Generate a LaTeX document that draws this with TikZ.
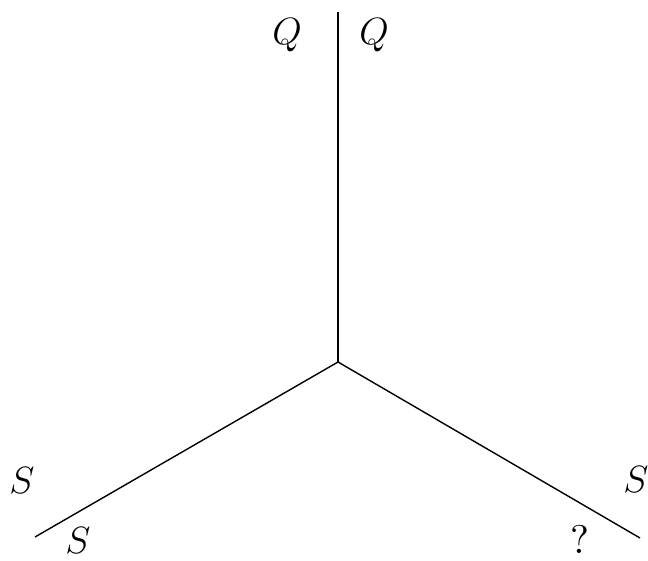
\RequirePackage{fix-cm}
\documentclass[tikz,border=0pt]{standalone}
\begin{document}
\begin{tikzpicture}[x=1pt,y=-1pt,
  edge/.style={line width=1.4pt},
  lab/.style={inner sep=0pt,font=\fontsize{38}{44}\selectfont}]
\useasboundingbox (0,0) rectangle (648,561);
\coordinate (c) at (338,362);
\coordinate (t) at (338,12);
\coordinate (l) at (35,537);
\coordinate (r) at (640,538);
\draw[edge] (c) -- (t);
\draw[edge] (c) -- (l);
\draw[edge] (c) -- (r);
\node[lab] (q1) at (287,35) {$Q$};
\node[lab] (q2) at (374,35) {$Q$};
\node[lab] (s1) at (22,481) {$S$};
\node[lab] (s2) at (78,541) {$S$};
\node[lab] (s3) at (636,480) {$S$};
\node[inner sep=0pt] (qm) at (580,539) {\scalebox{4}{?}};
\end{tikzpicture}
\end{document}
